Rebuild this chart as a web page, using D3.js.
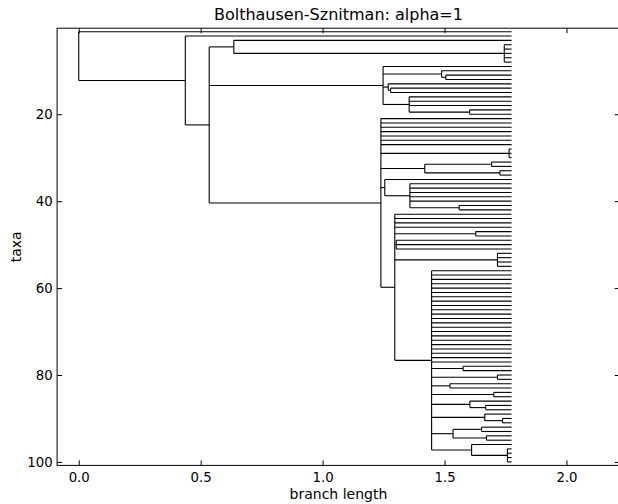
<!DOCTYPE html>
<html>
<head>
<meta charset="utf-8">
<script src="https://cdn.jsdelivr.net/npm/d3@7/dist/d3.min.js"></script>
<style>
  html, body { margin: 0; padding: 0; background: #fff; }
  svg { display: block; font-family: "DejaVu Sans", sans-serif; }
</style>
</head>
<body>
<svg id="chart" width="618" height="504"></svg>
<script>
// Internal clades of the coalescent tree: id, parent id, depth (cumulative branch length)
const nodeIds = ["root","A","B","C","E","F","G","H","I","J","K","L","D","N","Q","O","P","R","S","T",
  "U","W","V","X","Y","Z1","Z2","Z3","Z4","AA","AB","AC","AC2","AD","AD1","AD2","AE","AE2"];
const nodeParents = [null,"root","A","B","C","B","F","G","F","I","F","K","B","D","D","Q","Q","D","R","S",
  "D","U","U","U","U","Y","Y","Y","Y","Y","AA","Y","AC","Y","AD","AD","Y","AE"];
const nodeDepths = [0,0.437,0.535,0.636,1.745,1.248,1.488,1.505,1.269,1.279,1.355,1.603,1.239,1.765,1.419,1.693,1.727,1.255,1.358,1.560,
  1.296,1.628,1.302,1.717,1.447,1.576,1.717,1.522,1.702,1.604,1.669,1.665,1.738,1.535,1.652,1.672,1.611,1.758];

// Parent clade of each taxon 1..100, in plotting order
const leafParents = [
  "root","A","C","E","E","E","E","E","F","G",
  "H","H","I","J","J","K","K","K","L","L",
  "D","D","D","D","D","D","D","N","N","N",
  "O","O","P","P","R","S","S","S","S","S",
  "T","T","U","U","U","U","W","W","V","V",
  "V","X","X","X","X","Y","Y","Y","Y","Y",
  "Y","Y","Y","Y","Y","Y","Y","Y","Y","Y",
  "Y","Y","Y","Y","Y","Y","Y","Z1","Z1","Z2",
  "Z2","Z3","Z3","Z4","Z4","AA","AB","AB","AC","AC2",
  "AC2","AD1","AD1","AD2","AD2","AE","AE2","AE2","AE2","AE2"];
const leafDepth = 1.775;

const xTicks = [0, 0.5, 1.0, 1.5, 2.0];
const yTicks = [20, 40, 60, 80, 100];
const titleText = "Bolthausen-Sznitman: alpha=1";
const xLabel = "branch length";
const yLabel = "taxa";

const svg = d3.select("#chart");
const plotLeft = 57.1, plotRight = 619.8, plotTop = 28.2, plotBottom = 465.4;
const xMax = leafDepth;
const x = d3.scaleLinear().domain([-0.05 * xMax, 1.25 * xMax]).range([plotLeft, plotRight]);
const y = d3.scaleLinear().domain([0.2, leafParents.length + 0.8]).range([plotTop, plotBottom]);

// Assemble rows for d3.stratify
const rows = nodeIds.map((id, i) => ({id, parent: nodeParents[i], depth: nodeDepths[i], leaf: null}));
leafParents.forEach((p, i) => rows.push({id: "t" + (i + 1), parent: p, depth: leafDepth, leaf: i + 1}));
const root = d3.stratify().id(d => d.id).parentId(d => d.parent)(rows);

// Vertical positions: taxa at 1..N, clades at the midpoint of first and last child
root.eachAfter(n => {
  if (!n.children) { n.ypos = n.data.leaf; n.minLeaf = n.data.leaf; return; }
  n.children.sort((a, b) => a.minLeaf - b.minLeaf);
  n.minLeaf = n.children[0].minLeaf;
  n.ypos = (n.children[0].ypos + n.children[n.children.length - 1].ypos) / 2;
});

const plot = svg.append("g");
const lineStyle = sel => sel.attr("stroke", "#000").attr("stroke-width", 1.1).attr("fill", "none");

// Horizontal branches
plot.selectAll("line.h").data(root.descendants().filter(n => n.parent))
  .join("line").attr("class", "h")
  .attr("x1", n => x(n.parent.data.depth)).attr("x2", n => x(n.data.depth))
  .attr("y1", n => y(n.ypos)).attr("y2", n => y(n.ypos))
  .call(lineStyle);

// Vertical connectors of each clade
plot.selectAll("line.v").data(root.descendants().filter(n => n.children))
  .join("line").attr("class", "v")
  .attr("x1", n => x(n.data.depth)).attr("x2", n => x(n.data.depth))
  .attr("y1", n => y(n.children[0].ypos)).attr("y2", n => y(n.children[n.children.length - 1].ypos))
  .call(lineStyle);

// Frame
svg.append("rect").attr("x", plotLeft).attr("y", plotTop)
  .attr("width", plotRight - plotLeft).attr("height", plotBottom - plotTop)
  .attr("fill", "none").attr("stroke", "#000").attr("stroke-width", 1);

// Axes with inward ticks on all four sides
const fmtX = d3.format(".1f");
function styleAxis(g) {
  g.select(".domain").remove();
  g.selectAll(".tick line").attr("stroke", "#000").attr("stroke-width", 1);
  g.selectAll(".tick text").attr("fill", "#000").attr("font-size", 13.3).attr("font-family", "DejaVu Sans");
}
svg.append("g").attr("transform", `translate(0,${plotBottom})`)
  .call(d3.axisBottom(x).tickValues(xTicks).tickFormat(fmtX).tickSizeInner(-5).tickSizeOuter(0).tickPadding(7))
  .call(styleAxis);
svg.append("g").attr("transform", `translate(0,${plotTop})`)
  .call(d3.axisTop(x).tickValues(xTicks).tickFormat("").tickSizeInner(-5).tickSizeOuter(0))
  .call(styleAxis);
svg.append("g").attr("transform", `translate(${plotLeft},0)`)
  .call(d3.axisLeft(y).tickValues(yTicks).tickFormat(d3.format("d")).tickSizeInner(-5).tickSizeOuter(0).tickPadding(4.5))
  .call(styleAxis);
svg.append("g").attr("transform", `translate(${plotRight},0)`)
  .call(d3.axisRight(y).tickValues(yTicks).tickFormat("").tickSizeInner(-5).tickSizeOuter(0))
  .call(styleAxis);

// Title and axis labels
svg.append("text").attr("x", (plotLeft + plotRight) / 2).attr("y", 20).attr("text-anchor", "middle")
  .attr("font-size", 16).attr("fill", "#000").text(titleText);
svg.append("text").attr("x", (plotLeft + plotRight) / 2).attr("y", 499).attr("text-anchor", "middle")
  .attr("font-size", 14).attr("fill", "#000").text(xLabel);
svg.append("text").attr("transform", `translate(21,${(plotTop + plotBottom) / 2}) rotate(-90)`)
  .attr("text-anchor", "middle").attr("font-size", 14).attr("fill", "#000").text(yLabel);
</script>
</body>
</html>
